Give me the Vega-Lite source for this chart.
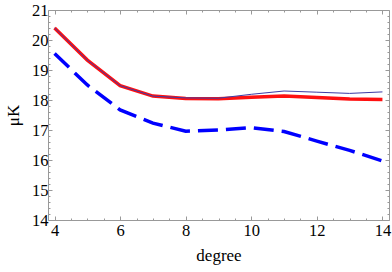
{
  "$schema": "https://vega.github.io/schema/vega-lite/v6.json",
  "width": 341,
  "height": 210,
  "autosize": "none",
  "padding": {"left": 48, "top": 10, "right": 3, "bottom": 52},
  "config": {
    "font": "Liberation Serif",
    "view": {"stroke": null},
    "axis": {"grid": false, "domainColor": "#999999", "tickColor": "#999999", "labelFont": "Liberation Serif", "titleFont": "Liberation Serif", "labelFontSize": 16.5, "titleFontSize": 17, "labelColor": "#000000", "titleColor": "#000000", "titleFontWeight": "normal", "domainWidth": 1, "tickWidth": 1}
  },
  "datasets": {
    "curves": [
      {"degree": 4, "dashed": 19.55, "red": 20.4, "thin": 20.4},
      {"degree": 5, "dashed": 18.5, "red": 19.33, "thin": 19.33},
      {"degree": 6, "dashed": 17.67, "red": 18.48, "thin": 18.48},
      {"degree": 7, "dashed": 17.23, "red": 18.13, "thin": 18.13},
      {"degree": 8, "dashed": 16.96, "red": 18.05, "thin": 18.07},
      {"degree": 9, "dashed": 17.0, "red": 18.04, "thin": 18.06},
      {"degree": 10, "dashed": 17.08, "red": 18.09, "thin": 18.19},
      {"degree": 11, "dashed": 16.95, "red": 18.13, "thin": 18.3},
      {"degree": 12, "dashed": 16.63, "red": 18.08, "thin": 18.26},
      {"degree": 13, "dashed": 16.32, "red": 18.03, "thin": 18.22},
      {"degree": 14, "dashed": 15.97, "red": 18.02, "thin": 18.27}
    ]
  },
  "data": {"name": "curves"},
  "resolve": {"axis": {"x": "independent", "y": "independent"}},
  "layer": [
    {
      "mark": {"type": "line", "color": "#0000ff", "strokeWidth": 3.5, "strokeDash": [20, 8], "strokeCap": "butt", "clip": true},
      "encoding": {
        "x": {"field": "degree", "type": "quantitative", "scale": {"domain": [3.8, 14.2], "nice": false, "zero": false},
          "axis": {"orient": "bottom", "values": [4, 6, 8, 10, 12, 14], "tickSize": -4, "labelPadding": 6, "title": "degree", "titlePadding": 9, "labelFlush": false}},
        "y": {"field": "dashed", "type": "quantitative", "scale": {"domain": [14, 21], "nice": false, "zero": false},
          "axis": {"orient": "left", "values": [14, 15, 16, 17, 18, 19, 20, 21], "tickSize": -4, "labelPadding": 4, "title": "μK", "titlePadding": 9, "labelFlush": false}}
      }
    },
    {
      "mark": {"type": "line", "color": "#ff1010", "strokeWidth": 3.5, "clip": true},
      "encoding": {
        "x": {"field": "degree", "type": "quantitative",
          "axis": {"orient": "top", "values": [4, 6, 8, 10, 12, 14], "tickSize": -4, "labels": false, "title": null}},
        "y": {"field": "red", "type": "quantitative",
          "axis": {"orient": "right", "values": [14, 15, 16, 17, 18, 19, 20, 21], "tickSize": -4, "labels": false, "title": null}}
      }
    },
    {
      "mark": {"type": "line", "color": "#3c3ca6", "strokeWidth": 1, "clip": true},
      "encoding": {
        "x": {"field": "degree", "type": "quantitative",
          "axis": {"orient": "bottom", "values": [4.5, 5, 5.5, 6.5, 7, 7.5, 8.5, 9, 9.5, 10.5, 11, 11.5, 12.5, 13, 13.5], "tickSize": -2, "labels": false, "domain": false, "title": null}},
        "y": {"field": "thin", "type": "quantitative",
          "axis": {"orient": "left", "values": [14.2, 14.4, 14.6, 14.8, 15.2, 15.4, 15.6, 15.8, 16.2, 16.4, 16.6, 16.8, 17.2, 17.4, 17.6, 17.8, 18.2, 18.4, 18.6, 18.8, 19.2, 19.4, 19.6, 19.8, 20.2, 20.4, 20.6, 20.8], "tickSize": -2, "labels": false, "domain": false, "title": null}}
      }
    },
    {
      "mark": {"type": "line", "opacity": 0},
      "encoding": {
        "x": {"field": "degree", "type": "quantitative",
          "axis": {"orient": "top", "values": [4.5, 5, 5.5, 6.5, 7, 7.5, 8.5, 9, 9.5, 10.5, 11, 11.5, 12.5, 13, 13.5], "tickSize": -2, "labels": false, "domain": false, "title": null}},
        "y": {"field": "thin", "type": "quantitative",
          "axis": {"orient": "right", "values": [14.2, 14.4, 14.6, 14.8, 15.2, 15.4, 15.6, 15.8, 16.2, 16.4, 16.6, 16.8, 17.2, 17.4, 17.6, 17.8, 18.2, 18.4, 18.6, 18.8, 19.2, 19.4, 19.6, 19.8, 20.2, 20.4, 20.6, 20.8], "tickSize": -2, "labels": false, "domain": false, "title": null}}
      }
    }
  ]
}
